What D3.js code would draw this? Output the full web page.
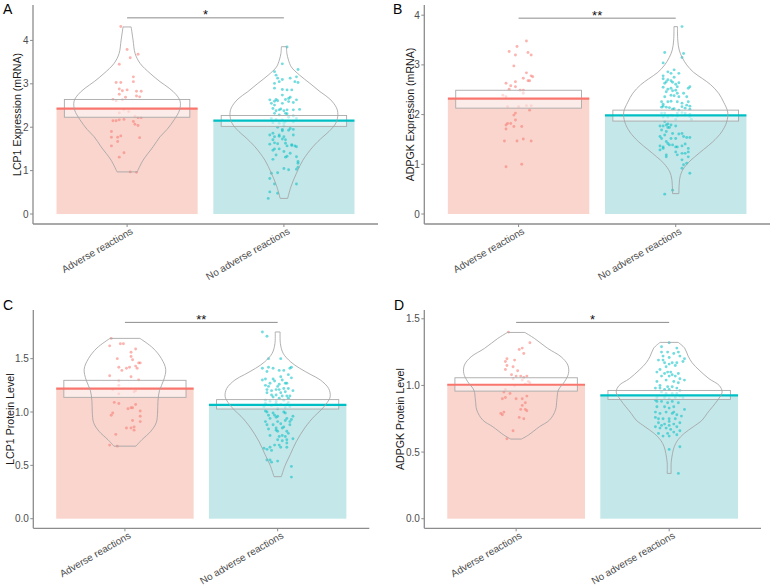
<!DOCTYPE html>
<html><head><meta charset="utf-8">
<script src="https://cdn.jsdelivr.net/npm/d3@7"></script>
<style>body{margin:0;background:#fff;} svg{display:block;font-family:"Liberation Sans", Arial, sans-serif;}</style>
</head><body><svg id="chart" width="773" height="588"></svg>
<script>
// ---------------- data ----------------
const categories = ["Adverse reactions", "No adverse reactions"];
const panelLetters = ["A", "B", "C", "D"];
const yTitles = ["LCP1 Expression (mRNA)", "ADPGK Expression (mRNA)", "LCP1 Protein Level", "ADPGK Protein Level"];
const yTicks = [[0, 1, 2, 3, 4], [0, 1, 2, 3, 4], [0, 0.5, 1, 1.5], [0, 0.5, 1, 1.5]];
const yTickFormats = ["d", "d", ".1f", ".1f"];
const yDomains = [[-0.23, 4.816], [-0.201, 4.205], [-0.09, 1.956], [-0.072, 1.566]];
const means = [[2.43, 2.15], [2.32, 1.985], [1.219, 1.066], [1.005, 0.925]];
const ciLow = [[2.23, 2.02], [2.13, 1.87], [1.1375, 1.028], [0.9575, 0.895]];
const ciHigh = [[2.64, 2.27], [2.49, 2.09], [1.297, 1.116], [1.0575, 0.9625]];
const sigLabels = ["*", "**", "**", "*"];
const sigHeights = [4.52, 3.94, 1.84, 1.473];

// points: [value, horizontal jitter in category units]
const lcp1MrnaAdverse = [[4.32,-0.04],[3.79,0.00],[3.68,0.07],[3.60,0.02],[3.45,-0.05],[3.16,0.04],[3.03,-0.07],[3.03,-0.04],[3.05,0.04],[2.88,-0.05],[2.84,-0.03],[2.86,0.00],[2.83,0.06],[2.83,0.09],[2.76,-0.05],[2.72,0.06],[2.70,0.08],[2.69,-0.01],[2.64,-0.09],[2.61,-0.07],[2.63,-0.03],[2.41,-0.02],[2.33,-0.05],[2.36,0.01],[2.25,0.05],[2.22,0.07],[2.22,0.09],[2.17,-0.05],[2.15,-0.09],[2.15,-0.07],[2.18,-0.02],[2.13,0.04],[2.07,0.05],[2.04,0.07],[1.90,-0.10],[1.80,-0.04],[1.77,-0.06],[1.77,-0.10],[1.67,-0.06],[1.76,0.08],[1.57,-0.10],[1.41,-0.02],[1.31,-0.05],[0.97,0.02],[0.96,0.06]];
const lcp1MrnaNone = [[3.85,0.02],[3.46,-0.01],[3.33,0.09],[3.28,-0.06],[3.20,-0.05],[3.16,0.08],[3.10,-0.01],[3.13,0.04],[3.05,-0.03],[3.01,-0.06],[3.05,0.07],[2.74,-0.01],[2.69,0.04],[2.63,-0.09],[2.60,-0.06],[2.64,-0.05],[2.64,0.01],[2.59,0.03],[2.57,0.06],[2.55,-0.08],[2.51,-0.06],[2.55,-0.01],[2.43,-0.07],[2.38,-0.05],[2.40,-0.03],[2.38,0.00],[2.32,-0.06],[2.32,0.01],[2.41,0.10],[2.20,-0.08],[2.18,-0.05],[2.17,-0.01],[2.23,0.03],[2.20,0.08],[2.10,-0.07],[2.09,-0.03],[2.09,0.00],[2.00,-0.04],[1.95,-0.01],[1.95,0.06],[1.82,-0.09],[1.92,-0.01],[1.78,-0.06],[1.79,-0.03],[1.78,0.00],[1.82,0.06],[1.71,-0.07],[1.71,0.01],[1.61,-0.09],[1.62,-0.04],[1.57,0.02],[1.58,0.05],[1.57,0.07],[1.47,-0.07],[1.44,0.00],[1.36,-0.05],[1.40,0.04],[1.26,-0.07],[1.31,0.01],[1.32,0.08],[1.21,0.09],[1.05,0.00],[1.08,0.09],[1.03,0.08],[0.94,-0.08],[0.95,-0.04],[0.82,-0.09],[0.69,-0.06],[0.69,0.08],[0.51,-0.09],[0.48,-0.04],[0.36,-0.10],[3.13,-0.04],[3.03,0.09],[2.90,-0.06],[2.87,-0.01],[2.86,0.02],[2.86,0.05],[2.61,-0.04],[2.66,0.03],[2.63,0.08],[2.42,-0.02],[2.40,0.02],[2.40,0.06],[2.28,-0.03],[2.31,0.02],[2.26,0.06],[2.13,0.01],[2.12,0.06],[2.03,0.00],[1.97,0.04],[1.86,-0.07],[1.82,-0.03],[1.93,0.03],[1.73,-0.01],[1.64,-0.06],[1.63,0.01],[1.60,0.05],[1.55,0.08],[1.50,-0.06],[1.50,-0.03],[1.33,0.02],[1.17,0.09],[1.02,0.03]];
const adpgkMrnaAdverse = [[3.48,0.05],[3.37,-0.01],[3.27,-0.06],[3.25,0.06],[3.20,0.08],[3.20,-0.02],[2.98,-0.03],[2.84,0.05],[2.78,0.08],[2.76,0.09],[2.73,0.03],[2.68,0.06],[2.68,0.07],[2.63,-0.08],[2.66,-0.02],[2.58,-0.05],[2.56,-0.02],[2.49,0.01],[2.49,0.03],[2.51,-0.06],[2.43,0.03],[2.39,-0.10],[2.36,-0.08],[2.16,-0.07],[2.16,0.00],[2.18,0.05],[2.18,0.08],[2.09,0.07],[2.03,-0.02],[1.99,-0.03],[1.89,-0.02],[1.82,-0.07],[1.82,-0.05],[1.79,-0.08],[1.71,-0.08],[1.76,-0.03],[1.76,0.02],[1.47,-0.09],[1.47,-0.01],[1.51,0.03],[1.47,0.08],[0.95,-0.08],[1.00,0.02]];
const adpgkMrnaNone = [[3.77,0.04],[3.25,-0.07],[3.23,0.05],[3.04,-0.08],[3.15,0.04],[2.83,-0.03],[2.83,0.02],[2.72,-0.08],[2.70,-0.05],[2.75,-0.01],[2.63,-0.07],[2.65,-0.02],[2.61,0.00],[2.56,0.01],[2.53,-0.03],[2.46,-0.06],[2.48,-0.02],[2.56,0.09],[2.43,0.01],[2.39,-0.03],[2.36,0.07],[2.26,-0.05],[2.26,0.01],[2.23,0.04],[2.19,0.07],[2.17,-0.08],[2.15,-0.09],[2.15,-0.06],[2.11,-0.02],[2.09,0.02],[2.13,0.06],[2.17,0.09],[2.11,0.09],[2.03,-0.09],[2.03,-0.07],[1.99,-0.03],[2.03,0.01],[2.04,0.04],[2.03,0.06],[2.01,0.09],[1.95,-0.08],[1.95,-0.05],[1.90,0.00],[1.90,0.10],[1.77,-0.08],[1.79,-0.06],[1.74,-0.05],[1.74,-0.04],[1.69,-0.09],[1.66,-0.06],[1.59,-0.07],[1.62,-0.02],[1.62,0.04],[1.56,0.05],[1.54,0.07],[1.52,-0.09],[1.52,0.00],[1.54,0.09],[1.46,-0.06],[1.39,-0.04],[1.37,-0.10],[1.35,0.00],[1.35,0.01],[1.37,0.04],[1.32,0.08],[1.32,-0.08],[1.19,-0.06],[1.19,0.01],[1.22,0.06],[1.15,0.08],[1.09,0.04],[1.02,0.07],[0.82,0.09],[0.48,-0.02],[0.40,-0.07],[2.86,-0.05],[2.90,-0.01],[2.78,-0.08],[2.66,-0.06],[2.68,-0.03],[2.64,0.02],[2.53,0.08],[2.55,-0.08],[2.51,-0.05],[2.49,0.00],[2.38,-0.01],[2.36,-0.07],[2.43,0.05],[2.36,0.02],[2.26,-0.09],[2.21,-0.08],[2.27,-0.03],[2.26,0.08],[2.14,-0.04],[2.12,-0.01],[2.16,0.04],[1.98,-0.02],[1.97,0.01],[1.99,0.06],[1.96,0.09],[1.86,-0.07],[1.81,-0.05],[1.79,-0.03],[1.77,0.00],[1.77,-0.10],[1.56,-0.10],[1.52,-0.03],[1.61,0.02],[1.42,-0.05],[1.39,-0.02],[1.41,0.06],[1.35,-0.08],[1.29,-0.10],[1.25,0.00],[1.22,0.04],[1.25,0.08],[1.15,-0.06],[0.99,0.05],[0.92,0.04]];
const lcp1ProtAdverse = [[1.69,-0.09],[1.64,-0.03],[1.64,-0.01],[1.62,-0.10],[1.59,0.07],[1.56,0.04],[1.52,0.04],[1.50,-0.05],[1.49,0.05],[1.46,0.09],[1.46,0.10],[1.42,-0.04],[1.39,-0.02],[1.41,0.01],[1.42,0.03],[1.43,0.07],[1.41,0.08],[1.33,0.04],[1.34,-0.10],[1.30,0.09],[1.29,-0.04],[1.25,-0.04],[1.21,-0.08],[1.20,0.07],[1.19,0.06],[1.17,-0.04],[1.09,-0.07],[1.08,-0.04],[1.07,0.07],[1.03,0.02],[1.04,0.04],[1.04,0.05],[1.01,0.10],[0.97,-0.09],[0.99,-0.08],[0.92,0.05],[0.96,0.10],[0.91,0.10],[0.85,0.01],[0.85,0.04],[0.86,0.06],[0.83,0.06],[0.79,-0.06],[0.69,-0.10],[0.68,-0.05]];
const lcp1ProtNone = [[1.75,-0.10],[1.71,-0.07],[1.50,0.02],[1.50,-0.06],[1.41,-0.10],[1.42,-0.06],[1.39,0.04],[1.41,0.08],[1.42,0.09],[1.35,0.07],[1.33,0.02],[1.31,-0.08],[1.31,-0.03],[1.32,0.09],[1.27,-0.05],[1.29,-0.02],[1.27,0.05],[1.24,-0.06],[1.24,0.00],[1.21,-0.07],[1.20,-0.04],[1.21,0.01],[1.22,0.04],[1.22,0.07],[1.18,-0.07],[1.16,-0.01],[1.18,0.02],[1.15,0.06],[1.14,-0.03],[1.13,0.01],[1.13,0.07],[1.11,-0.08],[1.11,0.04],[1.10,-0.05],[1.08,-0.08],[1.08,-0.01],[1.07,0.02],[1.05,-0.09],[1.06,-0.04],[1.07,0.06],[1.05,0.08],[1.03,0.00],[1.01,-0.08],[1.00,0.04],[0.97,-0.06],[0.97,-0.02],[0.96,0.00],[0.94,-0.05],[0.94,0.06],[0.93,0.09],[0.91,-0.08],[0.91,0.00],[0.89,0.02],[0.91,0.08],[0.88,-0.07],[0.88,-0.03],[0.86,0.04],[0.85,-0.01],[0.82,0.06],[0.82,0.00],[0.78,-0.05],[0.78,0.03],[0.80,0.07],[0.74,0.00],[0.73,0.03],[0.69,-0.02],[0.74,0.06],[0.67,-0.05],[0.67,0.02],[0.66,-0.09],[0.65,-0.07],[0.67,0.06],[0.64,-0.04],[0.55,-0.05],[0.53,-0.04],[0.54,0.00],[0.49,0.09],[0.39,0.09],[1.38,-0.07],[1.41,-0.03],[1.39,0.01],[1.30,0.03],[1.30,-0.10],[1.25,-0.08],[1.26,0.01],[1.27,0.06],[1.21,-0.01],[1.19,0.05],[1.20,0.10],[1.16,-0.04],[1.15,0.03],[1.15,0.08],[1.10,-0.01],[1.09,0.07],[1.04,0.05],[1.00,-0.07],[0.99,-0.03],[0.99,0.05],[0.96,0.10],[0.95,-0.01],[0.92,0.05],[0.88,0.08],[0.84,-0.06],[0.83,-0.01],[0.85,0.03],[0.77,0.01],[0.77,0.05],[0.75,0.10],[0.69,0.01],[0.71,0.06],[0.55,-0.07]];
const adpgkProtAdverse = [[1.40,-0.05],[1.32,0.09],[1.28,0.04],[1.27,0.02],[1.24,0.05],[1.20,-0.06],[1.18,-0.07],[1.19,-0.01],[1.15,-0.06],[1.14,-0.02],[1.12,-0.07],[1.11,0.01],[1.08,-0.03],[1.07,0.00],[1.07,0.03],[1.06,0.05],[1.07,0.07],[1.05,-0.02],[1.04,0.04],[1.03,0.08],[1.02,0.09],[1.01,0.06],[1.00,-0.01],[0.97,-0.07],[0.95,-0.08],[0.90,-0.09],[0.91,-0.07],[0.94,-0.04],[0.90,0.00],[0.92,0.07],[0.90,0.04],[0.87,0.06],[0.85,0.04],[0.82,0.06],[0.82,0.03],[0.81,0.07],[0.80,-0.08],[0.79,-0.10],[0.78,-0.09],[0.76,0.02],[0.75,0.05],[0.66,-0.02],[0.60,-0.06]];
const adpgkProtNone = [[1.32,0.00],[1.29,-0.05],[1.28,0.05],[1.25,-0.01],[1.24,0.03],[1.22,-0.04],[1.21,0.00],[1.22,0.07],[1.19,-0.07],[1.17,-0.03],[1.17,0.02],[1.17,0.05],[1.18,0.09],[1.14,-0.02],[1.10,-0.08],[1.09,-0.03],[1.10,-0.01],[1.08,0.02],[1.07,-0.05],[1.07,0.00],[1.07,0.04],[1.05,0.07],[1.04,0.10],[1.03,-0.08],[1.04,-0.02],[1.03,0.03],[1.00,-0.06],[0.99,-0.01],[0.99,0.02],[1.02,0.06],[0.98,-0.09],[0.98,-0.06],[0.97,-0.03],[0.97,0.00],[0.98,0.05],[0.96,0.07],[0.95,-0.05],[0.94,-0.02],[0.94,0.02],[0.94,0.05],[0.91,-0.08],[0.91,-0.03],[0.90,0.00],[0.91,0.04],[0.91,0.09],[0.88,-0.08],[0.88,-0.05],[0.87,-0.01],[0.88,0.02],[0.87,0.06],[0.84,-0.08],[0.84,-0.03],[0.83,0.00],[0.84,0.03],[0.82,0.10],[0.80,-0.09],[0.79,-0.06],[0.80,-0.02],[0.79,0.02],[0.78,0.05],[0.76,-0.09],[0.75,-0.04],[0.75,0.00],[0.75,0.04],[0.72,-0.07],[0.71,-0.03],[0.70,0.00],[0.71,0.03],[0.72,0.07],[0.69,-0.09],[0.68,-0.06],[0.68,-0.02],[0.67,0.01],[0.69,0.05],[0.64,-0.07],[0.64,-0.01],[0.65,0.03],[0.66,0.07],[0.62,-0.04],[0.62,0.00],[0.52,0.00],[0.54,0.07],[0.34,0.06],[1.25,-0.05],[1.25,0.06],[1.20,0.10],[1.19,-0.04],[1.16,0.00],[1.15,0.04],[1.12,-0.06],[1.10,0.01],[1.09,0.06],[0.92,0.07],[0.89,-0.09],[0.80,0.03],[0.77,0.08],[0.75,-0.07],[0.73,0.00],[0.70,-0.05],[0.63,0.05]];

// violin outlines: [value, half width in category units]
const violinLcp1MrnaAdverse = [[4.31,0.026],[4.01,0.038],[3.70,0.051],[3.47,0.083],[3.24,0.147],[3.05,0.210],[2.90,0.268],[2.75,0.313],[2.60,0.338],[2.40,0.335],[2.17,0.300],[1.95,0.255],[1.78,0.210],[1.55,0.166],[1.24,0.102],[0.97,0.064]];
const violinLcp1MrnaNone = [[3.855,0.016],[3.70,0.019],[3.55,0.029],[3.39,0.047],[3.20,0.100],[3.01,0.166],[2.82,0.230],[2.65,0.293],[2.45,0.335],[2.30,0.344],[2.10,0.332],[1.90,0.287],[1.78,0.249],[1.55,0.185],[1.24,0.121],[0.94,0.080],[0.63,0.045],[0.36,0.024]];
const violinAdpgkMrnaNone = [[3.77,0.011],[3.50,0.013],[3.30,0.022],[3.15,0.041],[3.00,0.070],[2.85,0.114],[2.72,0.172],[2.60,0.223],[2.43,0.273],[2.25,0.305],[2.05,0.331],[1.85,0.324],[1.65,0.292],[1.45,0.235],[1.30,0.178],[1.15,0.121],[1.02,0.076],[0.85,0.038],[0.70,0.025],[0.41,0.020]];
const violinLcp1ProtAdverse = [[1.69,0.098],[1.60,0.183],[1.50,0.239],[1.40,0.267],[1.30,0.254],[1.20,0.226],[1.10,0.216],[1.00,0.214],[0.90,0.205],[0.82,0.170],[0.74,0.111],[0.68,0.072]];
const violinLcp1ProtNone = [[1.75,0.016],[1.64,0.018],[1.55,0.036],[1.47,0.085],[1.41,0.144],[1.35,0.218],[1.30,0.280],[1.22,0.334],[1.144,0.344],[1.09,0.325],[1.02,0.285],[0.96,0.240],[0.85,0.177],[0.72,0.121],[0.60,0.082],[0.50,0.049],[0.394,0.024]];
const violinAdpgkProtAdverse = [[1.3975,0.057],[1.3525,0.120],[1.2775,0.207],[1.215,0.294],[1.1525,0.338],[1.09,0.342],[1.0275,0.316],[0.965,0.276],[0.89,0.266],[0.815,0.257],[0.74,0.218],[0.69,0.152],[0.6275,0.080],[0.5975,0.035]];
const violinAdpgkProtNone = [[1.323,0.059],[1.28,0.101],[1.22,0.124],[1.17,0.150],[1.115,0.196],[1.05,0.261],[1.00,0.327],[0.95,0.346],[0.89,0.317],[0.79,0.248],[0.74,0.216],[0.69,0.158],[0.64,0.098],[0.59,0.056],[0.54,0.033],[0.49,0.022],[0.42,0.013],[0.34,0.013]];

const panelPoints = [[lcp1MrnaAdverse, lcp1MrnaNone], [adpgkMrnaAdverse, adpgkMrnaNone], [lcp1ProtAdverse, lcp1ProtNone], [adpgkProtAdverse, adpgkProtNone]];
const panelViolins = [[violinLcp1MrnaAdverse, violinLcp1MrnaNone], [null, violinAdpgkMrnaNone], [violinLcp1ProtAdverse, violinLcp1ProtNone], [violinAdpgkProtAdverse, violinAdpgkProtNone]];

// ---------------- styles / layout ----------------
const mainColors = ["#F8766D", "#00BFC4"];
const barColors = ["#F9D5CE", "#C4E7E9"];
const layout = [
  {left: 33, right: 378, top: 5, bottom: 224, letterX: 3, letterY: 14, titleX: 17},
  {left: 424.3, right: 770, top: 5, bottom: 224, letterX: 393, letterY: 14, titleX: 410},
  {left: 33.3, right: 369.3, top: 310, bottom: 528.3, letterX: 3, letterY: 309.5, titleX: 10},
  {left: 424.3, right: 761, top: 310, bottom: 528.3, letterX: 394, letterY: 309.5, titleX: 400.5}
];

const svg = d3.select("#chart");
svg.append("rect").attr("width", 773).attr("height", 588).attr("fill", "#fff");

layout.forEach((L, p) => {
  const g = svg.append("g");
  const x = d3.scaleLinear().domain([0.4, 2.6]).range([L.left, L.right]);
  const y = d3.scaleLinear().domain(yDomains[p]).range([L.bottom, L.top]);
  const catPos = [1, 2];

  // bars
  g.selectAll("rect.bar").data(catPos).enter().append("rect")
    .attr("x", (c) => x(c - 0.45)).attr("width", (c) => x(c + 0.45) - x(c - 0.45))
    .attr("y", (c, i) => y(means[p][i])).attr("height", (c, i) => y(0) - y(means[p][i]))
    .attr("fill", (c, i) => barColors[i]);

  // points
  catPos.forEach((c, i) => {
    g.append("g").selectAll("circle").data(panelPoints[p][i]).enter().append("circle")
      .attr("cx", (d) => x(c + d[1])).attr("cy", (d) => y(d[0])).attr("r", 1.45)
      .attr("fill", mainColors[i]).attr("fill-opacity", 0.55);
  });

  // confidence boxes
  g.selectAll("rect.ci").data(catPos).enter().append("rect")
    .attr("x", (c) => x(c - 0.4)).attr("width", (c) => x(c + 0.4) - x(c - 0.4))
    .attr("y", (c, i) => y(ciHigh[p][i])).attr("height", (c, i) => y(ciLow[p][i]) - y(ciHigh[p][i]))
    .attr("fill", "#fff").attr("fill-opacity", 0.55)
    .attr("stroke", "#a9a9a9").attr("stroke-width", 0.9);

  // mean lines
  g.selectAll("line.mean").data(catPos).enter().append("line")
    .attr("x1", (c) => x(c - 0.45)).attr("x2", (c) => x(c + 0.45))
    .attr("y1", (c, i) => y(means[p][i])).attr("y2", (c, i) => y(means[p][i]))
    .attr("stroke", (c, i) => mainColors[i]).attr("stroke-width", 2.2);

  // violins
  catPos.forEach((c, i) => {
    const v = panelViolins[p][i];
    if (!v) return;
    const pts = v.slice().sort((a, b) => b[0] - a[0]);
    const area = d3.area()
      .y((d) => y(d[0])).x0((d) => x(c - d[1])).x1((d) => x(c + d[1]))
      .curve(d3.curveCatmullRom.alpha(0.5));
    g.append("path").attr("d", area(pts)).attr("fill", "none")
      .attr("stroke", "#a3a3a3").attr("stroke-width", 0.85);
  });

  // axes
  const axisColor = "#8c8c8c";
  g.append("line").attr("x1", L.left).attr("x2", L.left).attr("y1", L.top).attr("y2", L.bottom)
    .attr("stroke", axisColor).attr("stroke-width", 1.3);
  g.append("line").attr("x1", L.left).attr("x2", L.right).attr("y1", L.bottom).attr("y2", L.bottom)
    .attr("stroke", axisColor).attr("stroke-width", 1.3);
  const fmt = d3.format(yTickFormats[p]);
  yTicks[p].forEach((t) => {
    g.append("line").attr("x1", L.left - 3).attr("x2", L.left).attr("y1", y(t)).attr("y2", y(t))
      .attr("stroke", axisColor).attr("stroke-width", 1);
    g.append("text").attr("x", L.left - 4.5).attr("y", y(t)).attr("dy", "0.35em")
      .attr("text-anchor", "end").attr("font-size", 10).attr("fill", "#4d4d4d").text(fmt(t));
  });
  catPos.forEach((c, i) => {
    g.append("line").attr("x1", x(c)).attr("x2", x(c)).attr("y1", L.bottom).attr("y2", L.bottom + 3)
      .attr("stroke", axisColor).attr("stroke-width", 1);
    g.append("text").attr("transform", `translate(${x(c) + 3},${L.bottom + 3}) rotate(-30)`)
      .attr("dy", "0.71em").attr("text-anchor", "end").attr("font-size", 10)
      .attr("fill", "#4d4d4d").text(categories[i]);
  });

  // y title
  g.append("text").attr("transform", `translate(${L.titleX},${(L.top + L.bottom) / 2}) rotate(-90)`)
    .attr("dy", "0.35em").attr("text-anchor", "middle").attr("font-size", 10.6).attr("fill", "#1a1a1a")
    .text(yTitles[p]);

  // panel letter
  svg.append("text").attr("x", L.letterX).attr("y", L.letterY).attr("font-size", 14)
    .attr("fill", "#000").text(panelLetters[p]);

  // significance bracket
  g.append("line").attr("x1", x(1)).attr("x2", x(2)).attr("y1", y(sigHeights[p])).attr("y2", y(sigHeights[p]))
    .attr("stroke", "#7f7f7f").attr("stroke-width", 0.9);
  g.append("text").attr("x", (x(1) + x(2)) / 2).attr("y", y(sigHeights[p]) + 1.5)
    .attr("text-anchor", "middle").attr("font-size", 13).attr("fill", "#111").text(sigLabels[p]);
});
</script>
</body></html>
